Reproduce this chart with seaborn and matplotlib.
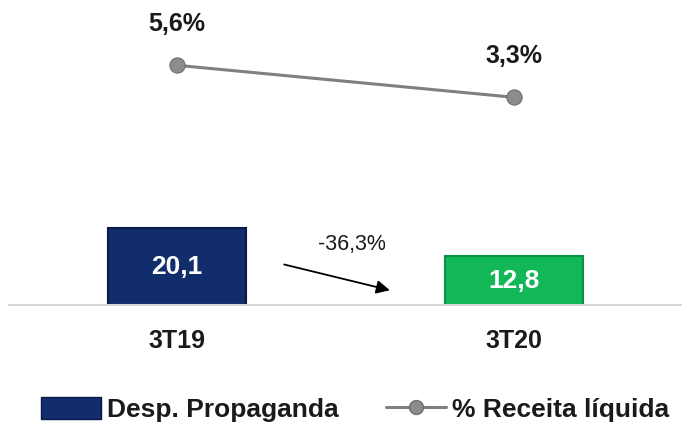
import numpy as np
import pandas as pd
import seaborn as sns
import matplotlib.pyplot as plt
from matplotlib.patches import Patch
from matplotlib.lines import Line2D

periodos = ['3T19', '3T20']
desp_propaganda = [20.1, 12.8]
pct_receita = [5.6, 3.3]
rotulos_barras = ['20,1', '12,8']
rotulos_pct = ['5,6%', '3,3%']
variacao = '-36,3%'

sns.set_theme(style='white')
plt.rcParams['font.family'] = ['Liberation Sans', 'DejaVu Sans']

df = pd.DataFrame({'periodo': periodos, 'desp': desp_propaganda, 'pct': pct_receita})

fig = plt.figure(figsize=(6.82, 4.26), dpi=100)
ax = fig.add_axes([0.013, 0.284, 0.987, 0.716])

cores = ['#112d6c', '#12b857']
bordas = ['#08194a', '#0b8f42']
sns.barplot(data=df, x='periodo', y='desp', hue='periodo', palette=cores,
            width=0.41, legend=False, ax=ax, saturation=1)
for p, b in zip(ax.patches, bordas):
    p.set_edgecolor(b)
    p.set_linewidth(1.5)

for i, txt in enumerate(rotulos_barras):
    ax.text(i, desp_propaganda[i] / 2, txt, color='white', ha='center', va='center',
            fontsize=19, fontweight='bold')

ax.set_xlim(-0.5, 1.5)
ax.set_ylim(0, 80)
ax.set_xlabel('')
ax.set_ylabel('')
ax.set_yticks([])
ax.tick_params(axis='x', length=0, pad=17, labelsize=18)
for t in ax.get_xticklabels():
    t.set_fontweight('bold')
    t.set_color('#1a1a1a')
for s in ['top', 'left', 'right']:
    ax.spines[s].set_visible(False)
ax.spines['bottom'].set_color('#d9d9d9')
ax.spines['bottom'].set_linewidth(1.5)

# seta de variacao
ax.annotate('', xy=(0.64, 3.7), xytext=(0.31, 10.8),
            arrowprops=dict(arrowstyle='-|>', color='black', lw=1.3, mutation_scale=20))
ax.text(0.52, 16.0, variacao, ha='center', va='center', fontsize=15.5,
        fontweight='medium', color='#1a1a1a')

ax2 = ax.twinx()
sns.lineplot(x=[0, 1], y=df['pct'], ax=ax2, color='#7f7f7f', linewidth=2.2,
             marker='o', markersize=11, markerfacecolor='#8c8c8c', markeredgecolor='#6e6e6e')
ax2.set_ylim(-11.65, 10.3)
ax2.set_yticks([])
ax2.set_ylabel('')
for s in ['top', 'left', 'right', 'bottom']:
    ax2.spines[s].set_visible(False)
for i, txt in enumerate(rotulos_pct):
    ax2.annotate(txt, (i, pct_receita[i]), xytext=(0, 30), textcoords='offset points',
                 ha='center', va='center', fontsize=18, fontweight='bold', color='#1a1a1a')

handles = [Patch(facecolor=cores[0], edgecolor=bordas[0]),
           Line2D([0], [0], color='#7f7f7f', lw=2.2, marker='o', markersize=10,
                  markerfacecolor='#8c8c8c', markeredgecolor='#6e6e6e')]
leg = fig.legend(handles, ['Desp. Propaganda', '% Receita líquida'], loc='center',
                 bbox_to_anchor=(0.52, 0.038), ncol=2, frameon=False, handlelength=2.3,
                 handleheight=0.85, handletextpad=0.2, columnspacing=1.8,
                 prop={'weight': 'bold', 'size': 19})
for t in leg.get_texts():
    t.set_color('#1a1a1a')

fig.savefig('out.png', dpi=100)
